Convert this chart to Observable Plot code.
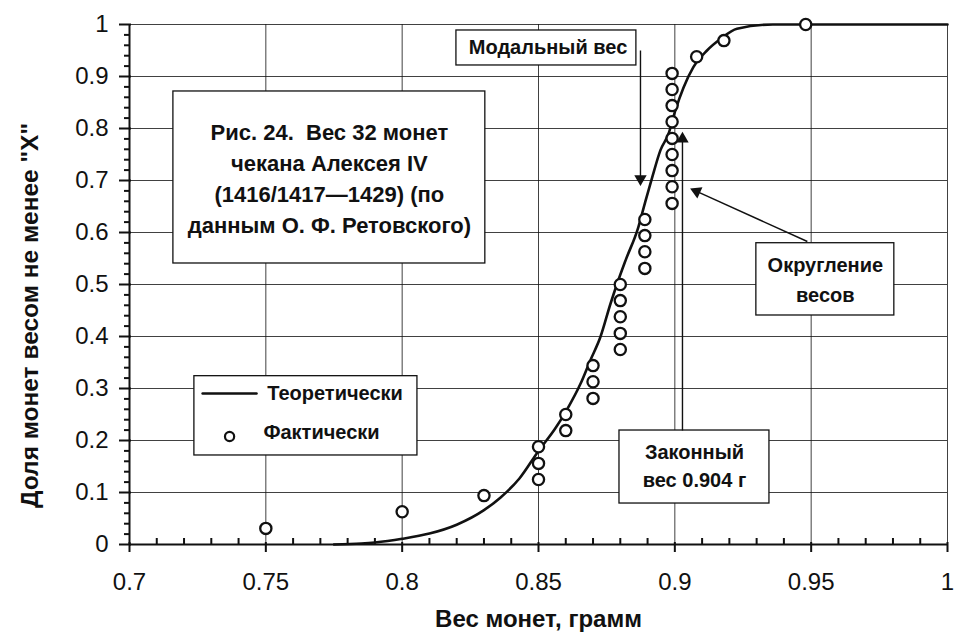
<!DOCTYPE html>
<html><head><meta charset="utf-8">
<script src="https://cdn.jsdelivr.net/npm/d3@7"></script>
<script src="https://cdn.jsdelivr.net/npm/@observablehq/plot@0.6"></script>
<style>
body{margin:0;background:#fff;}
#chart{position:relative;width:955px;height:634px;}
#chart svg{display:block;position:absolute;left:0;top:0;}
</style></head><body><div id="chart"></div>
<script>
// ---- data ----
const factX = [0.75,0.80,0.83,0.85,0.85,0.85,0.86,0.86,0.87,0.87,0.87,
  0.88,0.88,0.88,0.88,0.88,0.889,0.889,0.889,0.889,
  0.899,0.899,0.899,0.899,0.899,0.899,0.899,0.899,0.899,0.908,0.918,0.948];
const factY = [0.031,0.063,0.094,0.125,0.156,0.188,0.219,0.25,0.281,0.313,0.344,
  0.375,0.406,0.438,0.469,0.5,0.531,0.563,0.594,0.625,
  0.656,0.688,0.719,0.75,0.781,0.813,0.844,0.875,0.906,0.938,0.969,1.0];
const theoryX = [0.775,0.785,0.79,0.80,0.81,0.82,0.83,0.836,0.843,0.85,0.856,0.8605,0.8654,0.869,0.8727,
  0.8764,0.8788,0.8819,0.8866,0.8892,0.8917,0.8947,0.8977,0.9002,0.9032,0.9068,0.9118,0.9167,0.9228,0.936,1.0];
const theoryY = [0,0.002,0.004,0.011,0.021,0.038,0.066,0.09,0.127,0.18,0.222,0.26,0.309,0.354,0.399,
  0.463,0.501,0.546,0.61,0.66,0.706,0.758,0.79,0.835,0.879,0.918,0.95,0.972,0.992,1.0,1.0];
const xTicks = [0.7,0.75,0.8,0.85,0.9,0.95,1];
const xTickLabels = ["0.7","0.75","0.8","0.85","0.9","0.95","1"];
const yTicks = [0,0.1,0.2,0.3,0.4,0.5,0.6,0.7,0.8,0.9,1];
const yTickLabels = ["0","0.1","0.2","0.3","0.4","0.5","0.6","0.7","0.8","0.9","1"];
const xTitle = "Вес монет, грамм";
const yTitle = "Доля монет весом не менее \"X\"";
const legendLabels = ["Теоретически","Фактически"];
const noteTitle = "Рис. 24.\u00a0 Вес 32 монет\nчекана Алексея IV\n(1416/1417—1429) (по\nданным О. Ф. Ретовского)";
const noteModal = "Модальный вес";
const noteRound = "Округление\nвесов";
const noteLegal = "Законный\nвес 0.904 г";

// ---- annotation anchors (data units) ----
const boxes = [
  {x1:0.7161,x2:0.8305,y1:0.5404,y2:0.8712},
  {x1:0.8199,x2:0.8859,y1:0.9212,y2:0.9885},
  {x1:0.9299,x2:0.9805,y1:0.4404,y2:0.5794},
  {x1:0.8797,x2:0.9347,y1:0.0788,y2:0.2192},
  {x1:0.7238,x2:0.8056,y1:0.1712,y2:0.3237}
];
const arrowLines = [
  {x1:0.8874,y1:0.95,x2:0.8874,y2:0.7033},
  {x1:0.9028,y1:0.2192,x2:0.9028,y2:0.78},
  {x1:0.9486,y1:0.5827,x2:0.908,y2:0.679}
];
const arrowHeads = [
  {x:0.8874,y:0.7033,a:180},
  {x:0.9028,y:0.78,a:0},
  {x:0.908,y:0.679,a:-65.6}
];

const facts = factX.map((x,i)=>({x, y:factY[i]}));
const theory = theoryX.map((x,i)=>({x, y:theoryY[i]}));
const minorX = d3.range(71,100).filter(v=>v%5!==0).map(v=>v/100);
const minorY = d3.range(2,100,2).filter(v=>v%10!==0).map(v=>v/100);
const font = "'Liberation Sans', Arial, sans-serif";
const ink = "#111";
const W = 955, H = 634, ML = 129, MR = 8, MT = 24, MB = 90;
const FW = W - ML - MR, FH = H - MT - MB;

const chart = Plot.plot({
  width: W, height: H,
  marginLeft: ML, marginRight: MR, marginTop: MT, marginBottom: MB,
  style: {fontFamily: font, background: "#fff", color: ink, overflow: "visible"},
  x: {type: "linear", domain: [0.7, 1]},
  y: {type: "linear", domain: [0, 1]},
  marks: [
    Plot.gridX(xTicks.slice(1), {stroke: ink, strokeOpacity: 0.8, strokeWidth: 1}),
    Plot.gridY(yTicks.slice(1), {stroke: ink, strokeOpacity: 0.8, strokeWidth: 1}),
    Plot.rect(boxes, {x1:"x1", x2:"x2", y1:"y1", y2:"y2", fill:"#fff", stroke: ink, strokeWidth: 1.3}),
    Plot.line(theory, {x:"x", y:"y", curve:"monotone-x", stroke: ink, strokeWidth: 2.6}),
    Plot.dot(facts, {x:"x", y:"y", r:5.6, stroke: ink, strokeWidth: 2.3, fill:"#fff"}),
    Plot.link(arrowLines, {x1:"x1", y1:"y1", x2:"x2", y2:"y2", stroke: ink, strokeWidth: 1.4}),
    Plot.dot(arrowHeads, {x:"x", y:"y", rotate:"a", symbol:"triangle", r:4.6, fill: ink, stroke: "none"}),
    // annotation texts
    Plot.text([noteTitle], {x: 0.7733, y: 0.7077, fontSize: 22, fontWeight: "bold", lineHeight: 1.41, textAnchor: "middle", lineAnchor: "middle", fill: ink}),
    Plot.text([noteModal], {x: 0.8535, y: 0.9548, fontSize: 20, fontWeight: "bold", textAnchor: "middle", lineAnchor: "middle", fill: ink}),
    Plot.text([noteRound], {x: 0.9552, y: 0.514, fontSize: 20, fontWeight: "bold", lineHeight: 1.5, textAnchor: "middle", lineAnchor: "middle", fill: ink}),
    Plot.text([noteLegal], {x: 0.9072, y: 0.1538, fontSize: 20, fontWeight: "bold", lineHeight: 1.4, textAnchor: "middle", lineAnchor: "middle", fill: ink}),
    // legend
    Plot.line([{x:0.7268,y:0.2904},{x:0.7466,y:0.2904}], {x:"x", y:"y", stroke: ink, strokeWidth: 2.4}),
    Plot.dot([{x:0.7367,y:0.2077}], {x:"x", y:"y", r:4.6, stroke: ink, strokeWidth: 2.2, fill:"#fff"}),
    Plot.text([legendLabels[0]], {x: 0.7505, y: 0.2904, fontSize: 20, fontWeight: "bold", textAnchor: "start", lineAnchor: "middle", fill: ink}),
    Plot.text([legendLabels[1]], {x: 0.7491, y: 0.216, fontSize: 20, fontWeight: "bold", textAnchor: "start", lineAnchor: "middle", fill: ink}),
    // axes lines
    Plot.ruleY([0], {stroke: ink, strokeWidth: 2}),
    Plot.ruleX([0.7], {stroke: ink, strokeWidth: 2}),
    // tick labels
    Plot.axisX(xTicks, {anchor: "bottom", tickSize: 0, tickPadding: 28, fontSize: 24, fill: ink,
      tickFormat: d => xTickLabels[xTicks.indexOf(d)], label: null}),
    Plot.axisY(yTicks, {anchor: "left", tickSize: 0, tickPadding: 21, fontSize: 24, fill: ink,
      tickFormat: d => yTickLabels[yTicks.indexOf(d)], label: null}),
    // axis titles
    Plot.text([xTitle], {x: 0.85, y: -0.1442, fontSize: 24, fontWeight: "bold", textAnchor: "middle", lineAnchor: "middle", fill: ink}),
    Plot.text([yTitle], {x: 0.6637, y: 0.4404, rotate: -90, fontSize: 24.5, fontWeight: "bold", textAnchor: "middle", lineAnchor: "middle", fill: ink})
  ]
});

// tick marks on a transparent overlay plot with the same scales
const ticks = Plot.plot({
  width: W, height: H,
  marginLeft: ML, marginRight: MR, marginTop: MT, marginBottom: MB,
  style: {background: "transparent", color: ink, overflow: "visible"},
  x: {type: "linear", domain: [0.7, 1], axis: null},
  y: {type: "linear", domain: [0, 1], axis: null},
  marks: [
    Plot.tickX(xTicks, {x: d => d, stroke: ink, strokeWidth: 2, insetTop: FH - 2, insetBottom: -8}),
    Plot.tickX(minorX, {x: d => d, stroke: ink, strokeWidth: 2, insetTop: FH - 6, insetBottom: 0}),
    Plot.tickY(yTicks, {y: d => d, stroke: ink, strokeWidth: 2, insetLeft: -10, insetRight: FW - 2}),
    Plot.tickY(minorY, {y: d => d, stroke: ink, strokeWidth: 2, insetLeft: -5, insetRight: FW})
  ]
});
const host = document.getElementById("chart");
host.appendChild(chart);
host.appendChild(ticks);
</script>
</body></html>
